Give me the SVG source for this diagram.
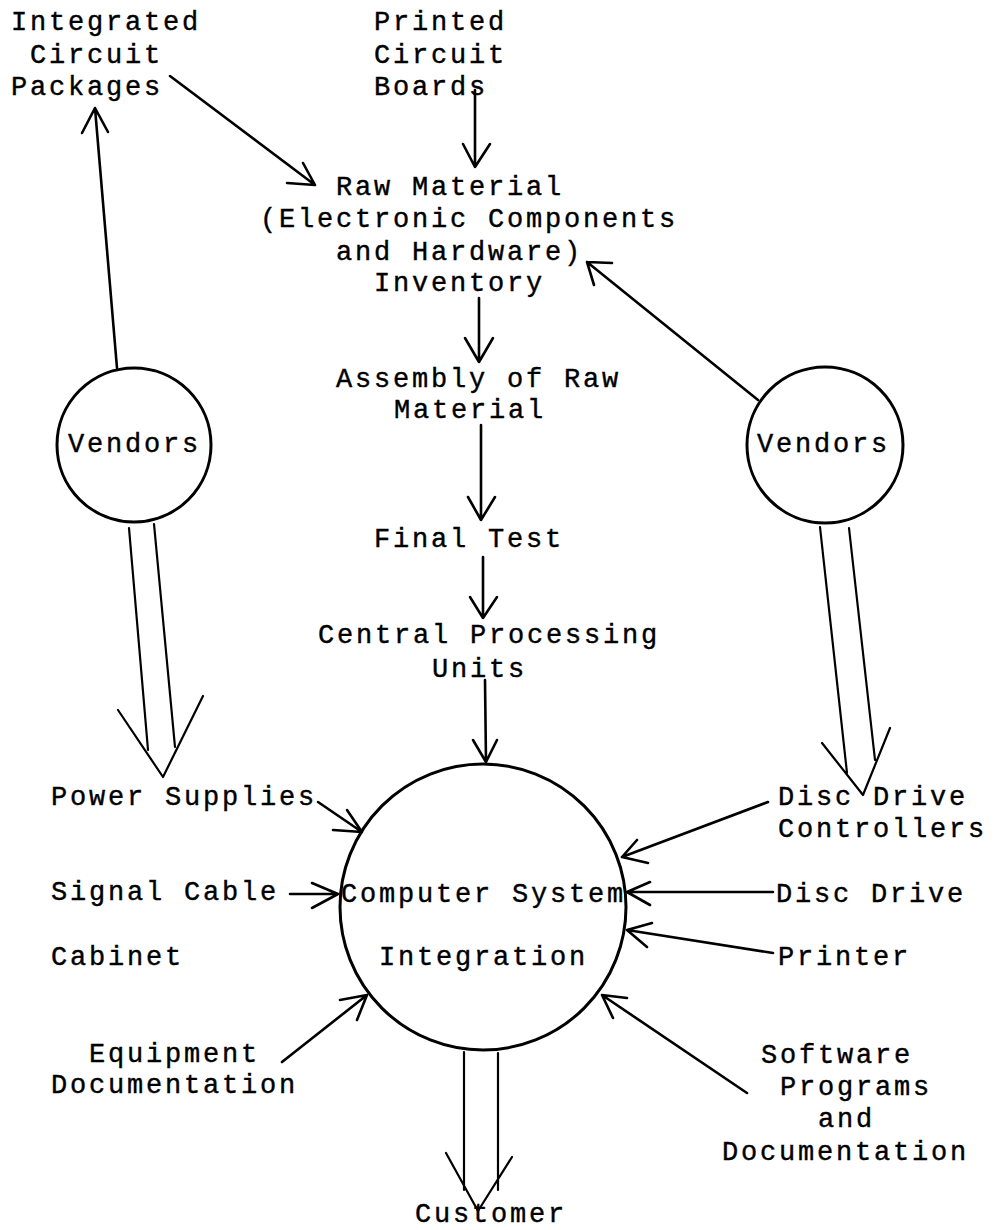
<svg xmlns="http://www.w3.org/2000/svg" width="995" height="1230" viewBox="0 0 995 1230">
<style>
text{font-family:"Liberation Mono","Courier New",monospace;font-size:27px;letter-spacing:2.8px;fill:#000;stroke:#000;stroke-width:0.4px}
.ln{fill:none;stroke:#000;stroke-width:2.6;stroke-linecap:round;stroke-linejoin:round}
.hl{fill:none;stroke:#000;stroke-width:2.2;stroke-linecap:round;stroke-linejoin:round}
.node{fill:none;stroke:#000;stroke-width:3}
</style>
<rect width="995" height="1230" fill="#fff"/>
<g id="connectors">
<path class="ln" d="M170,76 L315,185 M303,163 L315,185 L287,183"/>
<path class="ln" d="M475,90 L475,167 M463,144 L475,167 L490,144"/>
<path class="ln" d="M117,368 L95,108 M82,133 L95,108 L108,132"/>
<path class="ln" d="M758,400 L587,262 M612,263 L587,262 L594,285"/>
<path class="ln" d="M479,298 L479,362 M465,338 L479,362 L493,338"/>
<path class="ln" d="M481,425 L481,520 M468,497 L481,520 L495,497"/>
<path class="ln" d="M483,557 L483,618 M470,597 L483,618 L497,597"/>
<path class="ln" d="M485,680 L486,762 M473,740 L486,762 L497,740"/>
<path class="hl" d="M129,528 L148,750 M154,524 L175,747 M118,710 L163,777 L203,696"/>
<path class="hl" d="M820,527 L847,773 M849,528 L875,760 M822,743 L863,795 L890,728"/>
<path class="hl" d="M464,1052 L464,1190 M498,1053 L498,1190 M446,1153 L478,1211 L512,1157"/>
<path class="ln" d="M318,802 L362,832 M347,810 L362,832 L333,830"/>
<path class="ln" d="M290,894 L338,894 M312,883 L338,894 L312,908"/>
<path class="ln" d="M282,1062 L367,995 M340,1000 L367,995 L357,1020"/>
<path class="ln" d="M768,802 L622,857 M637,840 L622,857 L648,863"/>
<path class="ln" d="M773,892 L627,892 M650,882 L627,892 L650,905"/>
<path class="ln" d="M773,953 L627,930 M652,923 L627,930 L647,947"/>
<path class="ln" d="M747,1093 L602,995 M627,998 L602,995 L613,1018"/>
</g>
<g id="integrated-circuit-packages">
<text x="11" y="30">Integrated</text>
<text x="30" y="63">Circuit</text>
<text x="11" y="95">Packages</text>
</g>
<g id="printed-circuit-boards">
<text x="374" y="30">Printed</text>
<text x="374" y="63">Circuit</text>
<text x="374" y="95">Boards</text>
</g>
<g id="raw-material">
<text x="336" y="195">Raw Material</text>
<text x="260" y="227">(Electronic Components</text>
<text x="336" y="260">and Hardware)</text>
<text x="374" y="291">Inventory</text>
</g>
<g id="assembly">
<text x="336" y="387">Assembly of Raw</text>
<text x="394" y="418">Material</text>
</g>
<g id="final-test">
<text x="374" y="547">Final Test</text>
</g>
<g id="cpu">
<text x="318" y="643">Central Processing</text>
<text x="432" y="677">Units</text>
</g>
<g id="vendors-left">
<circle class="node" cx="134" cy="445" r="77"/>
<text x="68" y="452">Vendors</text>
</g>
<g id="vendors-right">
<circle class="node" cx="825" cy="445" r="78"/>
<text x="757" y="452">Vendors</text>
</g>
<g id="integration">
<circle class="node" cx="483" cy="907" r="143"/>
<text x="341" y="902">Computer System</text>
<text x="379" y="965">Integration</text>
</g>
<g id="power-supplies"><text x="51" y="805">Power Supplies</text></g>
<g id="signal-cable"><text x="51" y="900">Signal Cable</text></g>
<g id="cabinet"><text x="51" y="965">Cabinet</text></g>
<g id="equipment-documentation">
<text x="89" y="1062">Equipment</text>
<text x="51" y="1093">Documentation</text>
</g>
<g id="customer"><text x="415" y="1222">Customer</text></g>
<g id="disc-drive-controllers">
<text x="778" y="805">Disc Drive</text>
<text x="778" y="837">Controllers</text>
</g>
<g id="disc-drive"><text x="776" y="902">Disc Drive</text></g>
<g id="printer"><text x="778" y="965">Printer</text></g>
<g id="software">
<text x="761" y="1063">Software</text>
<text x="780" y="1095">Programs</text>
<text x="818" y="1127">and</text>
<text x="722" y="1160">Documentation</text>
</g>
</svg>
